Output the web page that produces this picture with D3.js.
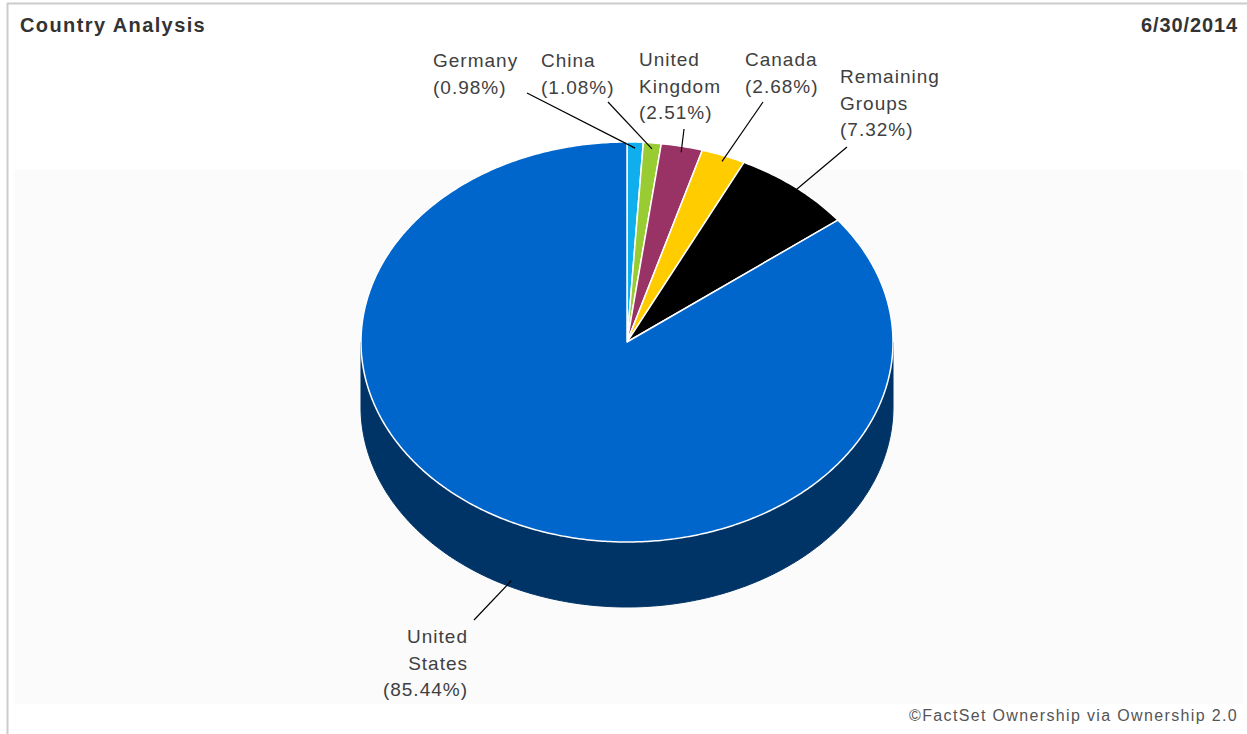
<!DOCTYPE html>
<html>
<head>
<meta charset="utf-8">
<script src="https://cdn.jsdelivr.net/npm/d3@7"></script>
<style>
  html, body { margin: 0; padding: 0; background: #ffffff; }
  svg { display: block; font-family: "Liberation Sans", Arial, sans-serif; }
</style>
</head>
<body>
<svg id="chart" width="1247" height="734"></svg>
<script>
// Country weights, clockwise from 12 o'clock
const countries = ["Germany", "China", "United Kingdom", "Canada", "Remaining Groups", "United States"];
const weights   = [0.98, 1.08, 2.51, 2.68, 7.32, 85.44];
const labelLines = [
  ["Germany", "(0.98%)"],
  ["China", "(1.08%)"],
  ["United", "Kingdom", "(2.51%)"],
  ["Canada", "(2.68%)"],
  ["Remaining", "Groups", "(7.32%)"],
  ["United", "States", "(85.44%)"]
];
const topColors  = ["#0fafee", "#99cc33", "#993366", "#ffcc00", "#000000", "#0066cc"];
const sideColors = ["#0a7fb0", "#6f9424", "#6b2447", "#b89300", "#000000", "#003366"];

const svg = d3.select("#chart");
const W = 1247, H = 734;

// frame
svg.append("line").attr("x1", 7).attr("x2", W).attr("y1", 3.5).attr("y2", 3.5)
  .attr("stroke", "#cccccc").attr("stroke-width", 2);
svg.append("line").attr("x1", 7.5).attr("x2", 7.5).attr("y1", 3).attr("y2", H)
  .attr("stroke", "#cccccc").attr("stroke-width", 2);

// plot area
svg.append("rect").attr("x", 14).attr("y", 170).attr("width", 1229).attr("height", 534)
  .attr("rx", 3).attr("fill", "#fbfbfb");

// header
svg.append("text").attr("x", 20).attr("y", 32)
  .attr("font-size", 20).attr("font-weight", "bold").attr("letter-spacing", 1.4)
  .attr("fill", "#333333").text("Country Analysis");
svg.append("text").attr("x", 1238).attr("y", 32).attr("text-anchor", "end")
  .attr("font-size", 20).attr("font-weight", "bold").attr("letter-spacing", 0.9)
  .attr("fill", "#333333").text("6/30/2014");

// footer
svg.append("text").attr("x", 1238).attr("y", 721).attr("text-anchor", "end")
  .attr("font-size", 16).attr("letter-spacing", 1.35)
  .attr("fill", "#555555").text("\u00A9FactSet Ownership via Ownership 2.0");

// 3D pie geometry
const cx = 627, cy = 342, rx = 266, ry = 200, depth = 65;
const pt = (a, k = 1, dy = 0) => [cx + rx * k * Math.sin(a), cy - ry * k * Math.cos(a) + dy];

const pie = d3.pie().sort(null).value(d => d)(weights);
const line = d3.line();

function arcPoints(a0, a1, dy) {
  const n = Math.max(2, Math.ceil(Math.abs(a1 - a0) / 0.01));
  return d3.range(n + 1).map(i => pt(a0 + (a1 - a0) * i / n, 1, dy));
}

// side walls (front half only: angles between PI/2 and 3PI/2)
const g = svg.append("g");
pie.forEach((s, i) => {
  const a0 = Math.max(s.startAngle, Math.PI / 2);
  const a1 = Math.min(s.endAngle, 3 * Math.PI / 2);
  if (a1 <= a0) return;
  const pts = arcPoints(a0, a1, 0).concat(arcPoints(a1, a0, depth));
  g.append("path").attr("d", line(pts) + "Z")
    .attr("fill", sideColors[i]).attr("stroke", sideColors[i]).attr("stroke-width", 1);
});

// top faces
pie.forEach((s, i) => {
  const pts = [[cx, cy]].concat(arcPoints(s.startAngle, s.endAngle, 0));
  g.append("path").attr("d", line(pts) + "Z")
    .attr("fill", topColors[i]).attr("stroke", "#ffffff").attr("stroke-width", 1.5)
    .attr("stroke-linejoin", "round");
});

// labels: text block position and leader-line start for each slice
const labelLayout = [
  { x: 433, y: 67, anchor: "start", lx: 527, ly: 93 },
  { x: 541, y: 67, anchor: "start", lx: 608, ly: 102 },
  { x: 639, y: 66, anchor: "start", lx: 684, ly: 129 },
  { x: 745, y: 66, anchor: "start", lx: 763, ly: 102 },
  { x: 840, y: 83, anchor: "start", lx: 847, ly: 147 },
  { x: 468, y: 643, anchor: "end", lx: 474, ly: 620 }
];
const lineH = 26.5;

pie.forEach((s, i) => {
  const L = labelLayout[i];
  const mid = (s.startAngle + s.endAngle) / 2;
  const front = Math.cos(mid) < 0;
  const end = pt(mid, 0.985, front ? depth - 3 : 3);
  svg.append("line").attr("x1", L.lx).attr("y1", L.ly).attr("x2", end[0]).attr("y2", end[1])
    .attr("stroke", "#000000").attr("stroke-width", 1.2);
  const t = svg.append("text").attr("font-size", 19).attr("letter-spacing", 1)
    .attr("fill", "#404040").attr("text-anchor", L.anchor);
  labelLines[i].forEach((txt, j) => {
    t.append("tspan").attr("x", L.x).attr("y", L.y + j * lineH).text(txt);
  });
});
</script>
</body>
</html>
